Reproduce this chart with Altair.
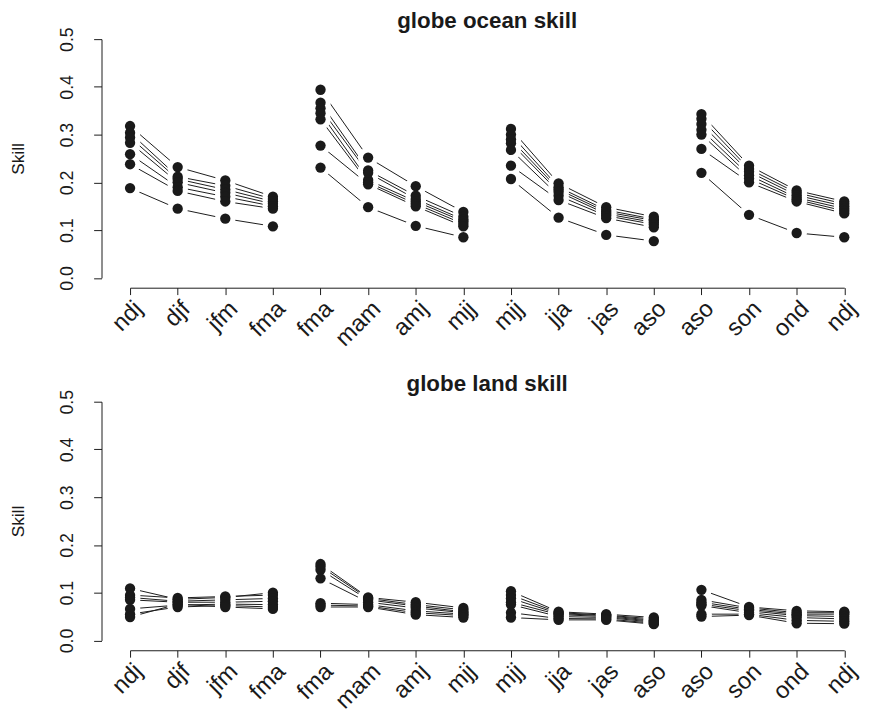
import json
import altair as alt
import pandas as pd

months = ["ndj", "djf", "jfm", "fma", "fma", "mam", "amj", "mjj",
          "mjj", "jja", "jas", "aso", "aso", "son", "ond", "ndj"]
positions = list(range(1, 17))
series = ["A", "B", "C", "D", "E", "F", "G"]

# globe ocean skill (7 series, 16 positions = 4 groups of 4 lead times)
ocean_A = [.318, .232, .204, .170, .394, .252, .192, .138, .312, .198, .148, .128, .343, .235, .183, .160]
ocean_B = [.304, .212, .193, .165, .367, .225, .172, .128, .300, .190, .142, .123, .333, .228, .178, .155]
ocean_C = [.294, .207, .185, .160, .355, .220, .165, .122, .290, .185, .138, .120, .322, .222, .173, .150]
ocean_D = [.283, .200, .178, .155, .345, .205, .160, .118, .282, .180, .134, .116, .310, .215, .168, .145]
ocean_E = [.259, .190, .170, .150, .332, .200, .155, .113, .268, .172, .130, .112, .300, .208, .164, .140]
ocean_F = [.238, .182, .160, .145, .277, .196, .150, .108, .235, .163, .125, .106, .270, .200, .160, .135]
ocean_G = [.188, .145, .124, .108, .231, .148, .109, .085, .207, .126, .090, .077, .220, .132, .094, .085]

# globe land skill
land_A = [.109, .086, .090, .100, .160, .090, .080, .068, .103, .060, .055, .048, .106, .070, .062, .060]
land_B = [.095, .089, .092, .095, .155, .088, .075, .064, .095, .058, .053, .045, .085, .068, .058, .058]
land_C = [.090, .082, .085, .088, .148, .085, .072, .060, .088, .056, .052, .042, .080, .065, .055, .055]
land_D = [.085, .080, .080, .082, .130, .080, .068, .058, .080, .054, .050, .040, .076, .062, .052, .050]
land_E = [.066, .074, .076, .075, .078, .075, .062, .055, .075, .050, .048, .038, .073, .058, .048, .045]
land_F = [.055, .070, .073, .070, .074, .072, .058, .052, .058, .046, .045, .036, .055, .055, .042, .040]
land_G = [.049, .076, .070, .066, .070, .070, .054, .048, .048, .043, .043, .034, .050, .053, .036, .035]

y_ticks = [0.0, 0.1, 0.2, 0.3, 0.4, 0.5]

ocean = [ocean_A, ocean_B, ocean_C, ocean_D, ocean_E, ocean_F, ocean_G]
land = [land_A, land_B, land_C, land_D, land_E, land_F, land_G]


def to_frame(rows):
    recs = []
    for s, vals in zip(series, rows):
        for p, v in zip(positions, vals):
            g = (p - 1) // 4
            recs.append({"pos": p, "skill": v, "key": f"{s}{g}"})
    return pd.DataFrame(recs)


FONT = "Liberation Sans"
label_expr = json.dumps(months) + "[datum.value - 1]"


def panel(df, title):
    base = alt.Chart(df).encode(
        x=alt.X("pos:Q",
                scale=alt.Scale(domain=[1, 16], nice=False, zero=False),
                axis=alt.Axis(values=positions, labelExpr=label_expr, title=None,
                              offset=10, grid=False, tickSize=7,
                              labelAngle=-45, labelAlign="right", labelBaseline="top",
                              labelPadding=2, labelFontSize=24, labelFlush=False,
                              labelOverlap=False, labelBound=False)),
        y=alt.Y("skill:Q",
                scale=alt.Scale(domain=[0, 0.5], nice=False, zero=False),
                axis=alt.Axis(values=y_ticks, format=".1f", title="Skill",
                              offset=29, grid=False, tickSize=8,
                              labelAngle=-90, labelAlign="center", labelBaseline="alphabetic",
                              labelPadding=21, labelFontSize=18, labelFlush=False,
                              labelOverlap=False, titleFontSize=17.5, titleFontWeight="normal",
                              titlePadding=32)),
    )
    lines = base.mark_line(color="#1a1a1a", strokeWidth=1).encode(detail="key:N")
    halo = base.mark_circle(size=440, color="white", opacity=1)
    pts = base.mark_circle(size=110, color="#1a1a1a", opacity=1)
    return alt.layer(lines, halo, pts).properties(
        width=725.5, height=242.5,
        title=alt.TitleParams(title, fontSize=22.7, fontWeight="bold", font=FONT,
                              anchor="middle", frame="group", offset=-24,
                              baseline="alphabetic", color="#1a1a1a"),
    )


top = panel(to_frame(ocean), "globe ocean skill")
bottom = panel(to_frame(land), "globe land skill")

chart = alt.vconcat(top, bottom, spacing=125.3, bounds="flush").properties(
    padding={"left": 2, "top": -4, "right": 0, "bottom": 0}
).configure_view(stroke=None).configure_axis(
    domainColor="#1a1a1a", tickColor="#1a1a1a", labelColor="#1a1a1a",
    titleColor="#1a1a1a", labelFont=FONT, titleFont=FONT, domainWidth=1, tickWidth=1,
)

chart.save("out.html", embed_options={"renderer": "svg", "actions": False})
